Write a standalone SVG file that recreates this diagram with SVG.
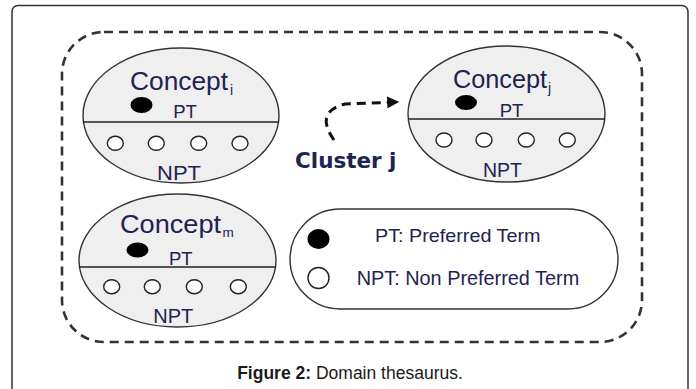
<svg xmlns="http://www.w3.org/2000/svg" width="696" height="389" viewBox="0 0 696 389">
<defs>
<style>
.ell{fill:#efefef;stroke:#333;stroke-width:1.4}
.div{stroke:#222;stroke-width:1.6}
.dot{fill:#000}
.hole{fill:#fff;stroke:#222;stroke-width:1.4}
.t{font-family:"Liberation Sans",Arial,sans-serif;fill:#1e2350}
.cap{font-family:"Liberation Sans",Arial,sans-serif;fill:#1a1a1a;font-size:17.5px}
</style>
<marker id="ah" viewBox="0 0 10 10" refX="9" refY="5" markerWidth="4" markerHeight="4" markerUnits="strokeWidth" orient="auto">
<path d="M0 0 L10 5 L0 10 Z" fill="#111"/>
</marker>
</defs>
<rect x="0" y="0" width="696" height="389" fill="#fff"/>
<rect x="12" y="5.5" width="676" height="400" rx="6" fill="none" stroke="#333" stroke-width="1.5"/>
<g id="cluster">
<rect x="62" y="32" width="580" height="310" rx="42" fill="none" stroke="#333" stroke-width="2.6" stroke-dasharray="9 6"/>
</g>
<g id="concept-i">
<ellipse class="ell" cx="181" cy="115.5" rx="98" ry="67.5"/>
<line class="div" x1="83" y1="122" x2="279" y2="122"/>
<text class="t" x="130" y="90.3" font-size="25" textLength="98" lengthAdjust="spacingAndGlyphs">Concept</text>
<text class="t" x="230" y="94.7" font-size="14">i</text>
<ellipse class="dot" cx="141.5" cy="105" rx="11" ry="8"/>
<text class="t" x="185" y="118.3" font-size="18.5" text-anchor="middle">PT</text>
<ellipse class="hole" cx="115.3" cy="143.3" rx="8" ry="7"/>
<ellipse class="hole" cx="156.3" cy="143.3" rx="8" ry="7"/>
<ellipse class="hole" cx="198.7" cy="143.3" rx="8" ry="7"/>
<ellipse class="hole" cx="240" cy="143.3" rx="8" ry="7"/>
<text class="t" x="157" y="180" font-size="19.5" textLength="44" lengthAdjust="spacingAndGlyphs">NPT</text>
</g>
<g id="concept-j">
<ellipse class="ell" cx="506.5" cy="114" rx="98.5" ry="68"/>
<line class="div" x1="408" y1="119" x2="605" y2="119"/>
<text class="t" x="453" y="88.3" font-size="25" textLength="94" lengthAdjust="spacingAndGlyphs">Concept</text>
<text class="t" x="548" y="92.5" font-size="14">j</text>
<ellipse class="dot" cx="466" cy="102.5" rx="11" ry="7.5"/>
<text class="t" x="511.5" y="116.7" font-size="18.5" text-anchor="middle">PT</text>
<ellipse class="hole" cx="444" cy="140" rx="8" ry="7"/>
<ellipse class="hole" cx="484" cy="140" rx="8" ry="7"/>
<ellipse class="hole" cx="526.3" cy="140" rx="8" ry="7"/>
<ellipse class="hole" cx="567.3" cy="140" rx="8" ry="7"/>
<text class="t" x="483" y="176.7" font-size="19.5" textLength="39" lengthAdjust="spacingAndGlyphs">NPT</text>
</g>
<g id="concept-m">
<ellipse class="ell" cx="177.5" cy="260.5" rx="98.5" ry="66.5"/>
<line class="div" x1="79" y1="267" x2="276" y2="267"/>
<text class="t" x="120" y="233.3" font-size="25" textLength="101" lengthAdjust="spacingAndGlyphs">Concept</text>
<text class="t" x="222.5" y="237.3" font-size="13.5">m</text>
<ellipse class="dot" cx="137.5" cy="250" rx="11" ry="7.5"/>
<text class="t" x="180.8" y="265" font-size="18.5" text-anchor="middle">PT</text>
<ellipse class="hole" cx="111.7" cy="286.7" rx="8" ry="7"/>
<ellipse class="hole" cx="152.3" cy="286.7" rx="8" ry="7"/>
<ellipse class="hole" cx="194.3" cy="286.7" rx="8" ry="7"/>
<ellipse class="hole" cx="238.3" cy="286.7" rx="8" ry="7"/>
<text class="t" x="153.3" y="323.3" font-size="19.5" textLength="40" lengthAdjust="spacingAndGlyphs">NPT</text>
</g>
<g id="legend">
<rect x="290" y="209" width="328" height="100" rx="50" fill="#fff" stroke="#333" stroke-width="1.4"/>
<ellipse class="dot" cx="318.5" cy="239" rx="11" ry="10"/>
<ellipse class="hole" cx="318.5" cy="278" rx="10.5" ry="10.5"/>
<text class="t" x="375" y="241.7" font-size="19" textLength="165.5" lengthAdjust="spacingAndGlyphs">PT: Preferred Term</text>
<text class="t" x="356.7" y="285" font-size="20.5" textLength="222.5" lengthAdjust="spacingAndGlyphs">NPT: Non Preferred Term</text>
</g>
<g id="connectors">
<path d="M334 140 Q314 112 345 104 L398 102" fill="none" stroke="#111" stroke-width="3" stroke-dasharray="9 6" marker-end="url(#ah)"/>
</g>
<g id="cluster-label">
<text x="295" y="168.3" font-family="'DejaVu Sans',Verdana,sans-serif" font-weight="bold" font-size="21" fill="#1e2350" textLength="101.5" lengthAdjust="spacingAndGlyphs">Cluster j</text>
</g>
<text class="cap" x="350" y="379" text-anchor="middle"><tspan font-weight="bold">Figure 2:</tspan> Domain thesaurus.</text>
</svg>
